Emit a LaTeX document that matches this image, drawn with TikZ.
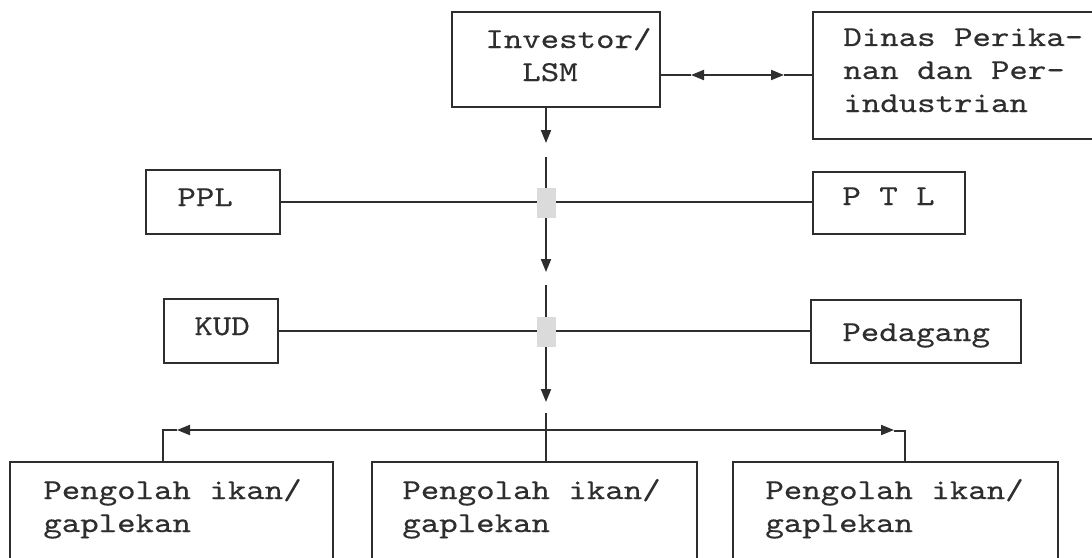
\documentclass[tikz,border=0pt]{standalone}
\usepackage{fontspec}
\newfontfamily\cour{lmmono10-regular}[Extension=.otf,FakeStretch=1.22,FakeBold=0.4]
\usetikzlibrary{arrows.meta,fit}
\definecolor{ink}{HTML}{2E2E2E}
\begin{document}
\begin{tikzpicture}[x=0.5pt,y=-0.5pt,
  box/.style={draw=ink,line width=1pt,inner sep=0pt,rectangle},
  txt/.style={inner sep=0pt,anchor=base west,align=left,text=ink,
    font=\cour\fontsize{14.4}{16.5}\selectfont},
  ln/.style={draw=ink,line width=1pt},
  tip/.style={-{Triangle[length=6.5pt,width=5pt]}},
  jump/.style={fill=gray!28,draw=none}]
\fill[white] (0,0) rectangle (1092,557);
\clip (0,0) rectangle (1092,557);
% boxes
\node[box,fit={(452,12) (660,107)}] (inv) {};
\node[box,fit={(813,12) (1110,139)}] (din) {};
\node[box,fit={(146,170) (280,234)}] (ppl) {};
\node[box,fit={(813,172) (965,234)}] (ptl) {};
\node[box,fit={(164,299) (278,363)}] (kud) {};
\node[box,fit={(811,300) (1021,363)}] (ped) {};
\node[box,fit={(10,462) (333,580)}] (pa) {};
\node[box,fit={(372,462) (697,580)}] (pb) {};
\node[box,fit={(733,462) (1058,580)}] (pc) {};
% texts (anchor = baseline of the last line)
\node[txt] (tinv) at (485,81) {Investor/\\\phantom{II}LSM};
\node[txt] (tdin) at (843,112) {Dinas Perika-\\nan dan Per-\\industrian};
\node[txt] (tppl) at (177,206) {PPL};
\node[txt] (tptl) at (842,205) {P\ T\ L};
\node[txt] (tkud) at (194,335) {KUD};
\node[txt] (tped) at (842,341) {Pedagang};
\node[txt] (tpa) at (43,532) {Pengolah ikan/\\gaplekan};
\node[txt] (tpb) at (402,532) {Pengolah ikan/\\gaplekan};
\node[txt] (tpc) at (765,532) {Pengolah ikan/\\gaplekan};
% coordinates
\coordinate (vx) at (546,0);
\coordinate (hm) at (740,75);
\coordinate (al) at (691,75);
\coordinate (ar) at (784,75);
\coordinate (a1) at (546,143);
\coordinate (b1) at (546,157);
\coordinate (a2) at (546,272);
\coordinate (b2) at (546,285);
\coordinate (a3) at (546,402);
\coordinate (b3) at (546,413);
\coordinate (j) at (546,430);
\coordinate (dl) at (177,430);
\coordinate (dlc) at (163,430);
\coordinate (dr) at (894,430);
\coordinate (drc) at (905,431);
% Investor <-> Dinas
\draw[ln,tip] (hm) -- (al);
\draw[ln] (al) -- (inv.east |- hm);
\draw[ln,tip] (hm) -- (ar);
\draw[ln] (ar) -- (din.west |- hm);
% horizontal links
\draw[ln] (ppl.east) -- (ptl.west |- ppl.east);
\draw[ln] (kud.east) -- (ped.west |- kud.east);
% vertical chain
\draw[ln,tip] (inv.south -| vx) -- (a1);
\draw[ln,tip] (b1) -- (a2);
\draw[ln,tip] (b2) -- (a3);
\draw[ln] (b3) -- (pb.north -| vx);
\fill[jump] (537,188) rectangle (556,218);
\fill[jump] (537,317) rectangle (556,347);
% distribution
\draw[ln,tip] (j) -- (dl);
\draw[ln] (dl) -- (dlc) -- (pa.north -| dlc);
\draw[ln,tip] (j) -- (dr);
\draw[ln] (dr |- drc) -- (drc) -- (pc.north -| drc);
\end{tikzpicture}
\end{document}
